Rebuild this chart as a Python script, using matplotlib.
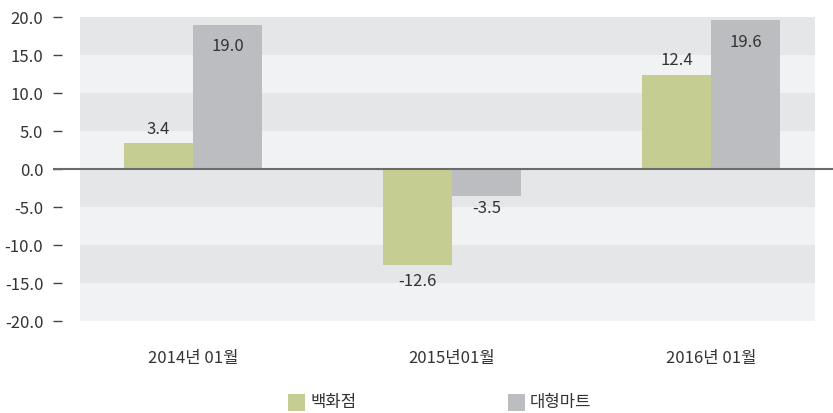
import matplotlib
matplotlib.use("Agg")
import matplotlib.pyplot as plt
from matplotlib.patches import Rectangle

plt.rcParams['font.family'] = ['Noto Sans CJK KR', 'DejaVu Sans']

categories = ['2014년 01월', '2015년01월', '2016년 01월']
series_names = ['백화점', '대형마트']
dept_store = [3.4, -12.6, 12.4]
hypermarket = [19.0, -3.5, 19.6]
y_ticks = [20, 15, 10, 5, 0, -5, -10, -15, -20]

colors = ['#c6cd92', '#bcbdc1']
band_dark = '#e5e6e8'
band_light = '#f1f2f4'
text_color = '#333333'

W, H = 833, 413
fig = plt.figure(figsize=(W / 100, H / 100), dpi=100)
left_px, right_px, top_px, bot_px = 53, 833, 17, 321
ax = fig.add_axes([left_px / W, 1 - bot_px / H, (right_px - left_px) / W, (bot_px - top_px) / H])

spacing = 259.0
ax.set_xlim((left_px - 193) / spacing, (right_px - 193) / spacing)
ax.set_ylim(-20, 20)

# background bands
bx0 = (80 - left_px) / (right_px - left_px)
bx1 = (815 - left_px) / (right_px - left_px)
for i in range(8):
    top = 20 - 5 * i
    ax.axhspan(top - 5, top, xmin=bx0, xmax=bx1, color=band_dark if i % 2 == 0 else band_light, lw=0, zorder=0)

x = list(range(len(categories)))
bw = 69 / spacing
ax.bar([xi - bw / 2 for xi in x], dept_store, width=bw, color=colors[0], zorder=2)
ax.bar([xi + bw / 2 for xi in x], hypermarket, width=bw, color=colors[1], zorder=2)

ax.axhline(0, color='#6b6b6b', lw=1.5, zorder=3)

fs = 12
for xi, v in zip(x, dept_store):
    off = 14 if v >= 0 else -17
    ax.annotate(f'{v:.1f}', (xi - bw / 2, v), xytext=(0, off), textcoords='offset pixels',
                ha='center', va='center', fontsize=fs, color=text_color, zorder=4)
for xi, v in zip(x, hypermarket):
    if v > 15:
        off = -22
    elif v >= 0:
        off = 14
    else:
        off = -13
    ax.annotate(f'{v:.1f}', (xi + bw / 2, v), xytext=(0, off), textcoords='offset pixels',
                ha='center', va='center', fontsize=fs, color=text_color, zorder=4)

for s in ax.spines.values():
    s.set_visible(False)
ax.set_yticks(y_ticks)
ax.set_yticklabels([f'{t:.1f}' for t in y_ticks], fontsize=fs, color=text_color)
ax.tick_params(axis='y', direction='in', length=6.5, width=1, color='#444444', pad=7)
ax.set_xticks(x)
ax.set_xticklabels(categories, fontsize=fs, color=text_color)
ax.tick_params(axis='x', length=0, pad=21)

# legend
leg_x = [288, 508]
for name, c, lx in zip(series_names, colors, leg_x):
    fig.patches.append(Rectangle((lx / W, 1 - 411 / H), 17 / W, 17 / H, transform=fig.transFigure,
                                 color=c, lw=0))
    fig.text((lx + 22) / W, 1 - 403 / H, name, fontsize=fs, color=text_color, va='center', ha='left')

fig.savefig('out.png', dpi=100)
